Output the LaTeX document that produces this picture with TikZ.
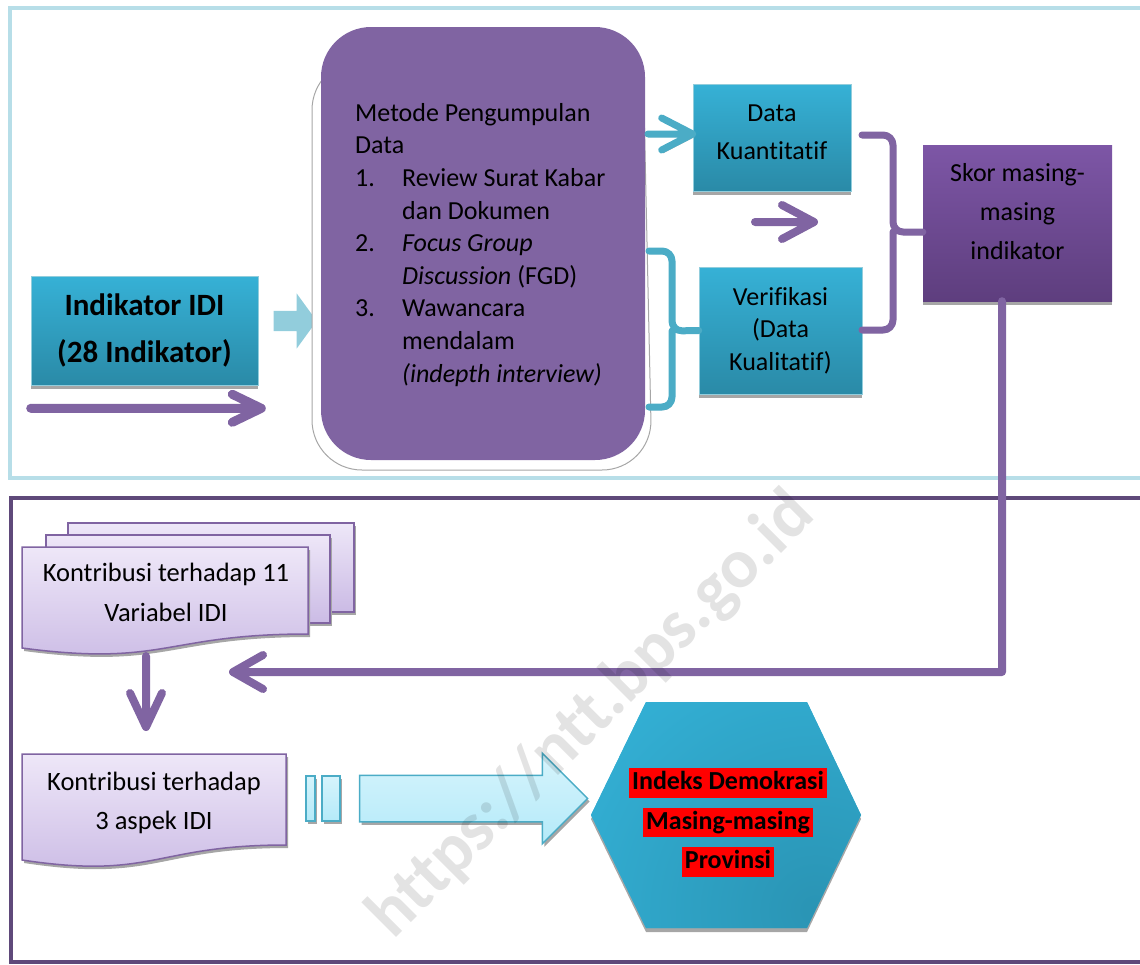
\documentclass[tikz,border=0pt]{standalone}
\usepackage{fontspec}
\setmainfont{Carlito}[Ligatures={NoCommon,NoContextual,NoRequired}]
\usetikzlibrary{positioning,calc,shadows,shapes.arrows}
\definecolor{panelblue}{RGB}{183,222,232}
\definecolor{panelpurple}{RGB}{95,73,122}
\definecolor{lilac}{RGB}{128,100,162}
\definecolor{tealtop}{RGB}{54,177,214}
\definecolor{tealbot}{RGB}{42,138,167}
\definecolor{tealline}{RGB}{75,172,198}
\definecolor{lightteal}{RGB}{146,205,220}
\definecolor{skytop}{RGB}{214,244,252}
\definecolor{skybot}{RGB}{180,234,249}
\definecolor{pasttop}{RGB}{238,231,248}
\definecolor{pastbot}{RGB}{203,187,229}
\definecolor{skortop}{RGB}{125,86,166}
\definecolor{skorbot}{RGB}{94,62,126}
\definecolor{hexblue}{RGB}{51,176,213}
\definecolor{hexdark}{RGB}{42,148,180}
\definecolor{shgray}{RGB}{166,166,166}
\newcommand{\redmark}[1]{{\setlength{\fboxsep}{3pt}\colorbox{red}{\rule[-5pt]{0pt}{21pt}#1}}}

\begin{document}
\begin{tikzpicture}[x=1pt,y=-1pt,every node/.style={font=\fontsize{26}{33}\selectfont},
  boxshadow/.style={drop shadow={shadow xshift=0pt,shadow yshift=-4pt,fill=shgray,opacity=1}},
  tealbox/.style={rectangle,draw=lightteal,line width=0.6pt,top color=tealtop,bottom color=tealbot,boxshadow},
  skorbox/.style={rectangle,top color=skortop,bottom color=skorbot,boxshadow},
  docbox/.style={draw=lilac,line width=1.5pt,top color=pasttop,bottom color=pastbot,
    drop shadow={shadow xshift=2pt,shadow yshift=-3pt,fill=shgray,opacity=1}},
  lshadow/.style={preaction={draw=shgray,transform canvas={shift={(1.5pt,-3pt)}}}},
  pline/.style={draw=lilac,line width=8pt,line cap=round,line join=round,lshadow},
  tline/.style={draw=tealline,line width=7pt,line cap=round,line join=round,lshadow}]
\useasboundingbox (0,0) rectangle (1140,964);

% the two panels
\draw[panelblue,line width=4pt] (10,8) rectangle (1160,478);
\draw[panelpurple,line width=4pt] (11,498) rectangle (1160,962);

% upper part
\node[tealbox,minimum width=227pt,minimum height=109pt,align=center,
  font=\bfseries\fontsize{31}{47}\selectfont] (ind) at (144.5,330.5) {Indikator IDI\\(28 Indikator)};
\node[single arrow,fill=lightteal,inner sep=0pt,text height=20pt,text depth=0pt,
  single arrow head extend=17.5pt,single arrow tip angle=108,minimum height=43pt] (arr1) at (291.5,321) {};

\draw[shgray,line width=1pt,fill=white,rounded corners=50pt] (312,60) -- (312,470) -- (652,470) -- (643,60) -- cycle;
\node[rectangle,rounded corners=50pt,fill=lilac,minimum width=324pt,minimum height=433pt] (met) at (483,243.5) {};
\node[anchor=north west,align=left,inner sep=0pt,font=\fontsize{26}{32.6}\selectfont] (mettxt) at (355,103) {%
Metode Pengumpulan\\
Data\\
\makebox[47pt][l]{1.}Review Surat Kabar\\
\hspace*{47pt}dan Dokumen\\
\makebox[47pt][l]{2.}\textit{Focus Group}\\
\hspace*{47pt}\textit{Discussion} (FGD)\\
\makebox[47pt][l]{3.}Wawancara\\
\hspace*{47pt}mendalam\\
\hspace*{47pt}\textit{(indepth interview)}};

\node[tealbox,minimum width=158pt,minimum height=107pt] (kuan) at (772,137.5) {};
\node[align=center,font=\fontsize{26}{38}\selectfont] (kuantxt) at ([yshift=5.5pt]kuan.center) {Data\\Kuantitatif};
\node[tealbox,minimum width=163pt,minimum height=127pt,align=center,
  font=\fontsize{26}{32.5}\selectfont] (veri) at (780.5,330.5) {Verifikasi\\(Data\\Kualitatif)};
\node[skorbox,minimum width=189pt,minimum height=156pt] (skor) at (1017.5,223) {};
\node[align=center,font=\fontsize{26}{39}\selectfont] (skortxt) at ([yshift=11pt]skor.center) {Skor masing-\\masing\\indikator};

% chevron arrows
\coordinate (a1s) at ([yshift=-23pt]ind.south west);
\coordinate (a1t) at ([xshift=3pt,yshift=-23pt]ind.south east);
\draw[pline,line width=9pt] (a1s) -- (a1t) (a1t) ++(-29,-14) -- (a1t) -- ++(-29,14);
\coordinate (a2s) at (648,134);
\coordinate (a2t) at ([yshift=3.5pt]kuan.west);
\draw[tline] (a2s) -- (a2t) (a2t) ++(-31,-16) -- (a2t) -- ++(-31,16);
\coordinate (a3s) at (755,222);
\coordinate (a3t) at (814,222);
\draw[pline] (a3s) -- (a3t) (a3t) ++(-32,-17) -- (a3t) -- ++(-32,17);

% braces
\draw[tline,rounded corners=10pt] (649,251) -| (672,331) -- (veri.west) (672,331) |- (649,407);
\draw[pline,line width=7pt,rounded corners=10pt] (862,135) -| (893,232) -- ([yshift=-9pt]skor.west) (893,232) |- (862,330);

% lower part
\path[docbox] (68,523) rectangle (354,612);
\path[docbox] (46,535) rectangle (330,623);
\path[docbox] (22,547) -- (308,547) -- (308,634) .. controls (165,634) and (165,667) .. (22,648) -- cycle;
\node[align=center,font=\fontsize{26.5}{40}\selectfont] (k11) at (166,592) {Kontribusi terhadap 11\\Variabel IDI};

\path[docbox] (22,754) -- (286,754) -- (286,845) .. controls (154,845) and (154,880) .. (22,860) -- cycle;
\node[align=center,font=\fontsize{26.5}{39}\selectfont] (k3) at (154,802.5) {Kontribusi terhadap\\3 aspek IDI};

\coordinate (a4t) at (233,672);
\draw[pline] ([xshift=-15.5pt]skor.south) |- (a4t) (a4t) ++(30,-17) -- (a4t) -- ++(30,17);
\coordinate (a5s) at (146,656);
\coordinate (a5t) at (146,727);
\draw[pline] (a5s) -- (a5t) (a5t) ++(-16,-34) -- (a5t) -- ++(16,-34);

\path[draw=tealline,line width=1.5pt,top color=skytop,bottom color=skybot,
  drop shadow={shadow xshift=2pt,shadow yshift=-3pt,fill=shgray,opacity=1}] (306,776) rectangle (315,821);
\path[draw=tealline,line width=1.5pt,top color=skytop,bottom color=skybot,
  drop shadow={shadow xshift=2pt,shadow yshift=-3pt,fill=shgray,opacity=1}] (322,776) rectangle (340,821);
\node[single arrow,draw=tealline,line width=1.5pt,top color=skytop,bottom color=skybot,inner sep=0pt,
  text height=45pt,text depth=0pt,single arrow head extend=22pt,single arrow tip angle=90,minimum height=228pt,
  drop shadow={shadow xshift=2pt,shadow yshift=-3pt,fill=shgray,opacity=1}] (barr) at (462,798.5) {};

\path[fill=hexblue,boxshadow,path picture={\shade[inner color=hexdark,outer color=hexblue] (815,910) circle (280);}]
  (646,702) -- (807,702) -- (861,815) -- (807,928) -- (646,928) -- (591,815) -- cycle;
\node[align=center,font=\bfseries\fontsize{26}{39.5}\selectfont] (idx) at (728,822.5)
  {\redmark{Indeks Demokrasi}\\\redmark{Masing-masing}\\\redmark{Provinsi}};

% watermark
\node[rotate=45,opacity=0.11,font=\bfseries\fontsize{70}{70}\selectfont] (wm) at (592,716) {https://ntt.bps.go.id};
\end{tikzpicture}
\end{document}
